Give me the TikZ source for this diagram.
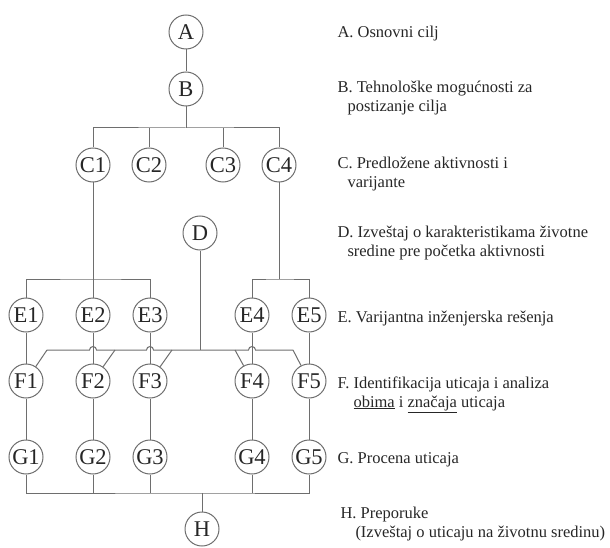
\documentclass[tikz,border=0pt]{standalone}
\usepackage{fontspec}
\setmainfont{Liberation Serif}
\definecolor{linija}{HTML}{6E6E6E}
\definecolor{tekst}{HTML}{262626}
\newcommand{\cvor}[3]{\node[krug] (#1) at (#2,#3) {#1};}
\newcommand{\stavka}[4]{%
  \node[opis] (o#1) at (#2,#3) {\begin{tabular}[t]{@{}l@{}}#4\end{tabular}};}

\begin{document}
\begin{tikzpicture}[x=1pt, y=-1pt, color=linija, line width=1pt,
    krug/.style={circle, draw, minimum size=34pt, inner sep=0pt, text=tekst,
      font=\fontsize{22.5}{22.5}\selectfont},
    opis/.style={anchor=base west, inner sep=0pt, text=tekst,
      font=\fontsize{16.5}{19}\selectfont}]
  \useasboundingbox (0,0) rectangle (610,548);
  \foreach \n/\px/\py in {A/186/32, B/186/89, C1/93/165, C2/149/165, C3/223/165,
      C4/279/165, D/200/233, H/202/529}
    {\cvor{\n}{\px}{\py}}
  \foreach \i/\px in {1/26, 2/93, 3/150, 4/252, 5/309}
    {\cvor{E\i}{\px}{315} \cvor{F\i}{\px}{381} \cvor{G\i}{\px}{457}
     \draw (E\i) -- (F\i); \draw (F\i) -- (G\i);}
  \coordinate (bc) at (186,128);
  \coordinate (el) at (93,279);
  \coordinate (ed) at (279,279);
  \coordinate (dh) at (200,350);
  \coordinate (gh) at (202,493);
  \draw (A) -- (B);
  \draw (B) -- (bc);
  \draw (C1) |- (bc) -| (C4);
  \draw (C2) -- (C2 |- bc);
  \draw (C3) -- (C3 |- bc);
  \draw (C1) -- (el);
  \draw (E1) |- (el) -| (E3);
  \draw (E2) -- (el);
  \draw (C4) -- (ed);
  \draw (E4) |- (ed) -| (E5);
  \draw (D) -- (dh);
  \foreach \k/\px in {1/47, 2/115, 3/172, 4/235, 5/293}
    {\coordinate (d\k) at (\px,350); \draw (d\k) -- (F\k);}
  \draw (d1) foreach \px in {93,150,252}
    {-- (\px-3.5,350) arc[start angle=180, end angle=360, radius=3.5]} -- (d5);
  \draw (G1) |- (gh) -| (G5);
  \foreach \i in {2,3,4} \draw (G\i) -- (G\i |- gh);
  \draw (gh) -- (H);
  \stavka{A}{337}{38}{A. Osnovni cilj}
  \stavka{B}{337}{93}{B. Tehnološke mogućnosti za\\\hspace*{10pt}postizanje cilja}
  \stavka{C}{337}{169}{C. Predložene aktivnosti i\\\hspace*{10pt}varijante}
  \stavka{D}{337}{237}{D. Izveštaj o karakteristikama životne\\\hspace*{10pt}sredine pre početka aktivnosti}
  \stavka{E}{337}{322}{E. Varijantna inženjerska rešenja}
  \stavka{F}{337}{388}{F. Identifikacija uticaja i analiza\\\hspace*{16pt}\underline{obima} i \underline{značaja} uticaja}
  \stavka{G}{337}{463}{G. Procena uticaja}
  \stavka{H}{340}{518}{H. Preporuke\\\hspace*{15pt}(Izveštaj o uticaju na životnu sredinu)}
\end{tikzpicture}
\end{document}
